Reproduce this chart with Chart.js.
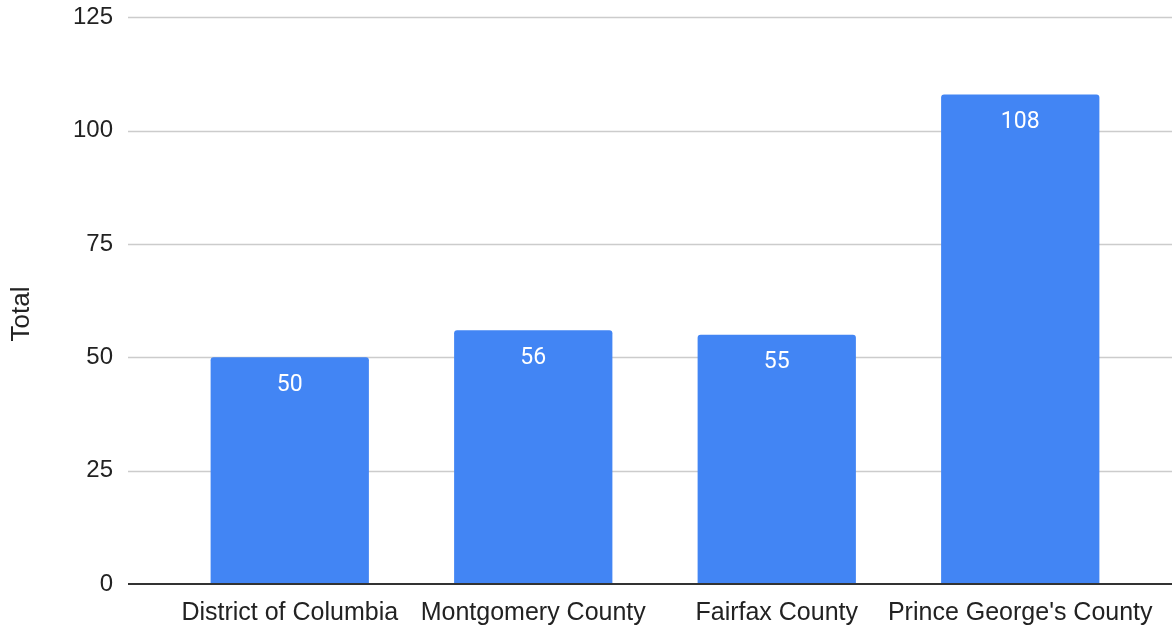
<!DOCTYPE html>
<html>
<head>
<meta charset="utf-8">
<script src="https://cdn.jsdelivr.net/npm/chart.js@4.4.1/dist/chart.umd.min.js"></script>
<style>
  html, body { margin: 0; padding: 0; background: #fff; }
  #wrap { width: 1172px; height: 628px; }
</style>
</head>
<body>
<div id="wrap"><canvas id="chart"></canvas></div>
<script>
const categories = ['District of Columbia', 'Montgomery County', 'Fairfax County', "Prince George's County"];
const totals = [50, 56, 55, 108];
const yTicks = [0, 25, 50, 75, 100, 125];
const yTitle = 'Total';

const axisFont = '"Liberation Sans", Arial, sans-serif';

// gridlines run a bit wider than the bar area, like the original
const wideGrid = {
    id: 'wideGrid',
    beforeDatasetsDraw(chart) {
        const ctx = chart.ctx;
        const y = chart.scales.y;
        const left = chart.scales.gap.left + 4;
        const right = chart.width;
        ctx.save();
        ctx.strokeStyle = '#cccccc';
        ctx.lineWidth = 1.5;
        yTicks.forEach(v => {
            if (v === 0) return;
            const py = Math.round(y.getPixelForValue(v)) + 0.5;
            ctx.beginPath();
            ctx.moveTo(left, py);
            ctx.lineTo(right, py);
            ctx.stroke();
        });

        // axis title, centred on the whole chart height
        ctx.fillStyle = '#222';
        ctx.font = '26px ' + axisFont;
        ctx.textAlign = 'center';
        ctx.textBaseline = 'middle';
        ctx.translate(22, chart.height / 2);
        ctx.rotate(-Math.PI / 2);
        ctx.fillText(yTitle, 0, 0);
        ctx.restore();
    },
    afterDatasetsDraw(chart) {
        const ctx = chart.ctx;
        const y = chart.scales.y;
        const py = Math.round(y.getPixelForValue(0));
        ctx.save();
        ctx.strokeStyle = '#333333';
        ctx.lineWidth = 2;
        ctx.beginPath();
        ctx.moveTo(chart.scales.gap.left + 4, py);
        ctx.lineTo(chart.width, py);
        ctx.stroke();

        // value just inside the top of each bar
        const meta = chart.getDatasetMeta(0);
        ctx.fillStyle = '#ffffff';
        ctx.font = '23px Roboto, "Liberation Sans", Arial, sans-serif';
        ctx.textAlign = 'center';
        ctx.textBaseline = 'middle';
        meta.data.forEach((bar, i) => {
            ctx.fillText(String(totals[i]), bar.x, bar.y + 28);
        });
        ctx.restore();
    }
};

new Chart(document.getElementById('chart'), {
    type: 'bar',
    data: {
        labels: categories,
        datasets: [{
            label: yTitle,
            data: totals,
            backgroundColor: '#4285f4',
            borderRadius: { topLeft: 3, topRight: 3 },
            borderSkipped: 'bottom',
            categoryPercentage: 1,
            barPercentage: 0.65
        }]
    },
    options: {
        responsive: true,
        maintainAspectRatio: false,
        animation: false,
        layout: { padding: { top: 3, right: 30, left: 0, bottom: 0 } },
        plugins: {
            legend: { display: false },
            tooltip: { enabled: false }
        },
        scales: {
            x: {
                grid: { display: false },
                border: { display: false },
                ticks: {
                    color: '#222',
                    font: { family: axisFont, size: 25 },
                    maxRotation: 0,
                    autoSkip: false,
                    padding: 6
                },
                afterFit(scale) { scale.height = 44; }
            },
            y: {
                min: 0,
                max: 125,
                weight: 1,
                afterBuildTicks(scale) { scale.ticks = yTicks.map(v => ({ value: v })); },
                grid: { display: false },
                border: { display: false },
                ticks: {
                    color: '#222',
                    font: { family: axisFont, size: 24 },
                    padding: 3
                },
                afterFit(scale) { scale.width = 124; }
            },
            // empty strip between the tick labels and the first bar
            gap: {
                type: 'linear',
                position: 'left',
                weight: 0,
                grid: { display: false },
                border: { display: false },
                ticks: { display: false },
                afterFit(scale) { scale.width = 44; }
            }
        }
    },
    plugins: [wideGrid]
});
</script>
</body>
</html>
